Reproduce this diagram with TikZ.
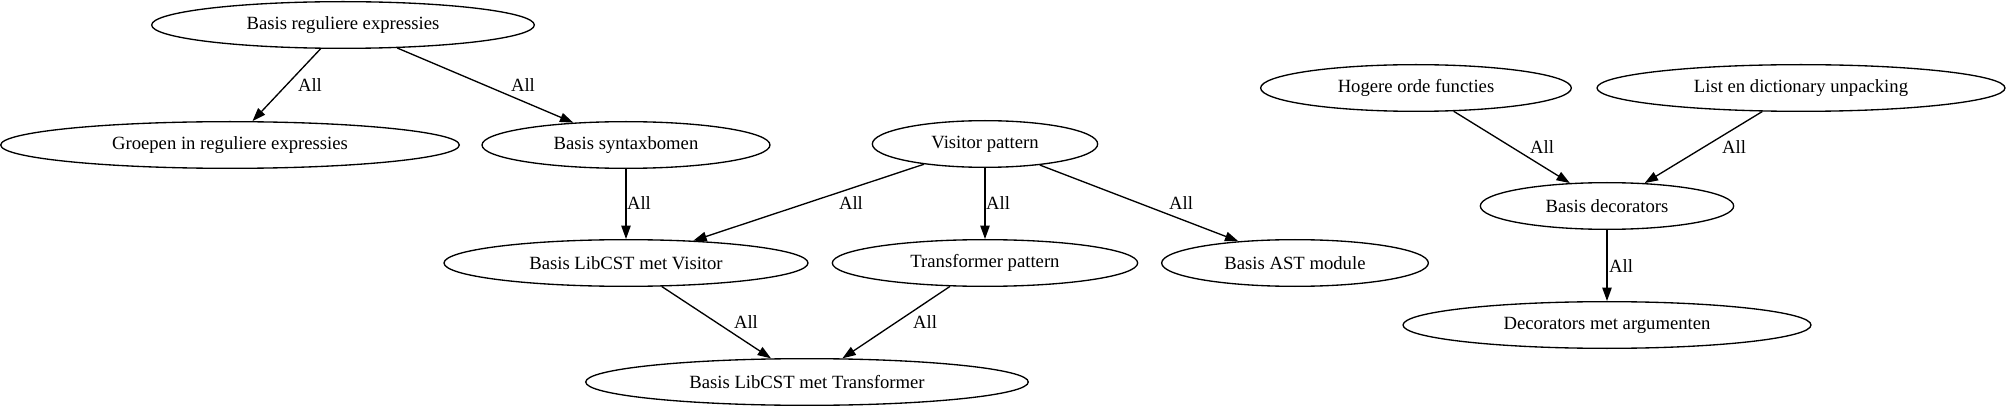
\documentclass[tikz,border=0pt]{standalone}
\usepackage{fontspec}
\setmainfont{Liberation Serif}
\usetikzlibrary{arrows.meta,shapes.geometric}
\begin{document}
\begin{tikzpicture}[x=0.75pt,y=-0.75pt,
    topic/.style={draw,ellipse,line width=1pt,inner sep=0pt,minimum height=35pt,font=\fontsize{14}{16}\selectfont},
    edge/.style={draw,line width=1pt,-{Triangle[length=10pt,width=7pt]}},
    lbl/.style={font=\fontsize{14}{16}\selectfont,inner sep=0pt}]
                 \useasboundingbox (0,0) rectangle (2007,406);
                 \node[topic,minimum width=287pt] (basisre) at (343,25) {Basis reguliere expressies};
                 \node[topic,minimum width=344pt] (groepen) at (230,145) {Groepen in reguliere expressies};
                 \node[topic,minimum width=216pt] (syntax) at (626,145) {Basis syntaxbomen};
                 \node[topic,minimum width=169pt] (visitor) at (985,144) {Visitor pattern};
                 \node[topic,minimum width=273pt] (libvis) at (626,263) {Basis LibCST met Visitor};
                 \node[topic,minimum width=229pt] (transpat) at (985,263) {Transformer pattern};
                 \node[topic,minimum width=200pt] (ast) at (1295,263) {Basis AST module};
                 \node[topic,minimum width=332pt] (libtrans) at (807,382) {Basis LibCST met Transformer};
                 \node[topic,minimum width=233pt] (hogere) at (1416,88) {Hogere orde functies};
                 \node[topic,minimum width=306pt] (unpack) at (1801,88) {List en dictionary unpacking};
                 \node[topic,minimum width=190pt] (decbasis) at (1607,206) {Basis decorators};
                 \node[topic,minimum width=306pt] (decarg) at (1607,325) {Decorators met argumenten};
                 \draw[edge] (basisre) -- (groepen) node[lbl] at (310,85) {All};
                 \draw[edge] (basisre) -- (syntax) node[lbl] at (523,85) {All};
                 \draw[edge] (syntax) -- (libvis) node[lbl] at (639,203) {All};
                 \draw[edge] (visitor) -- (libvis) node[lbl] at (851,203) {All};
                 \draw[edge] (visitor) -- (transpat) node[lbl] at (998,203) {All};
                 \draw[edge] (visitor) -- (ast) node[lbl] at (1181,203) {All};
                 \draw[edge] (libvis) -- (libtrans) node[lbl] at (746,322) {All};
                 \draw[edge] (transpat) -- (libtrans) node[lbl] at (925,322) {All};
                 \draw[edge] (hogere) -- (decbasis) node[lbl] at (1542,147) {All};
                 \draw[edge] (unpack) -- (decbasis) node[lbl] at (1734,147) {All};
                 \draw[edge] (decbasis) -- (decarg) node[lbl] at (1621,266) {All};
            \end{tikzpicture}
\end{document}
